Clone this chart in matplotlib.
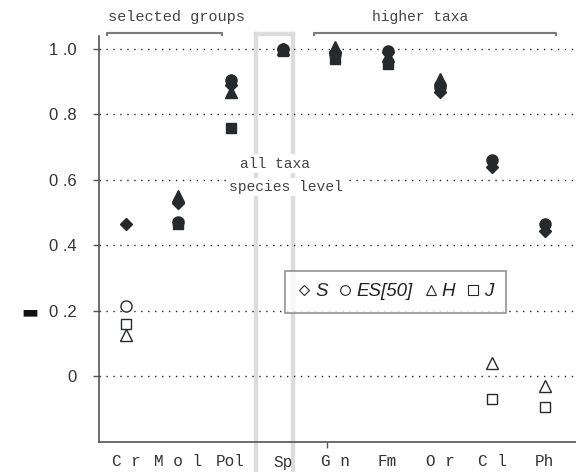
import matplotlib
matplotlib.use("Agg")
import matplotlib.pyplot as plt
from matplotlib.lines import Line2D

# Categories along x (first three: selected groups, Sp: all taxa, rest: higher taxa)
categories = ["C r", "M o l", "Pol", "Sp", "G n", "Fm", "O r", "C l", "Ph"]

# Index values per category
s_vals = [0.465, 0.53, 0.89, 1.0, 0.99, 0.99, 0.87, 0.64, 0.445]
es_vals = [0.215, 0.47, 0.905, 1.0, 0.985, 0.995, 0.885, 0.66, 0.465]
h_vals = [0.125, 0.55, 0.87, 1.0, 1.005, 0.98, 0.91, 0.04, -0.03]
j_vals = [0.16, 0.465, 0.76, 0.995, 0.97, 0.955, 0.885, -0.07, -0.095]

ytick_vals = [0, 0.2, 0.4, 0.6, 0.8, 1.0]
ytick_labels = ["0", "0 .2", "0 .4", "0 .6", "0 .8", "1 .0"]

ink = "#262a2c"
mono = "Liberation Mono"

fig = plt.figure(figsize=(5.76, 4.72), dpi=100)
ax = fig.add_axes([99 / 576, 30 / 472, 477 / 576, 406 / 472])

x = list(range(1, len(categories) + 1))

series = [
    (s_vals, "D", 6.0),
    (es_vals, "o", 8.0),
    (h_vals, "^", 8.0),
    (j_vals, "s", 7.5),
]

# high values drawn solid, low values drawn open
for vals, mk, ms in series:
    for xi, v in zip(x, vals):
        filled = v > 0.3
        ax.plot(xi, v, marker=mk, ms=ms, ls="none",
                mfc=ink if filled else "white", mec=ink,
                mew=1.0, zorder=5)

ax.set_xlim(0.485, 9.6)
ax.set_ylim(-0.2015, 1.04)

# dotted reference lines
for yv in ytick_vals:
    ax.axhline(yv, color="#222", lw=1.0, ls=(0, (1, 4)), zorder=1)

# band around the all-taxa column
band_col = "#dcdcdc"
bx0, bx1, btop = 3.48, 4.2, 1.046
for bx in (bx0, bx1):
    ax.add_line(Line2D([bx, bx], [-0.5, btop], color=band_col, lw=3.2,
                       clip_on=False, zorder=0.5))
ax.add_line(Line2D([bx0, bx1], [btop, btop], color=band_col, lw=3.2,
                   clip_on=False, zorder=0.5))

# group brackets
br_col = "#7a7a7a"
for x0, x1 in [(0.637, 2.83), (4.6, 9.22)]:
    ax.add_line(Line2D([x0, x0, x1, x1], [1.044, 1.05, 1.05, 1.044],
                       color=br_col, lw=1.5, clip_on=False))

ax.text(1.97, 1.098, "selected groups", family=mono, fontsize=11,
        ha="center", va="center", color="#444")
ax.text(6.63, 1.098, "higher taxa", family=mono, fontsize=10.5,
        ha="center", va="center", color="#444")

box = dict(facecolor="white", edgecolor="none", pad=1.5)
ax.text(3.84, 0.65, "all taxa", family=mono, fontsize=10.5,
        ha="center", va="center", color="#444", bbox=box, zorder=3)
ax.text(4.05, 0.577, "species level", family=mono, fontsize=10.5,
        ha="center", va="center", color="#444", bbox=box, zorder=3)

# axes styling
for side in ("top", "right"):
    ax.spines[side].set_visible(False)
for side in ("left", "bottom"):
    ax.spines[side].set_color("#555")
    ax.spines[side].set_linewidth(1.2)

ax.set_yticks(ytick_vals)
ax.set_yticklabels(ytick_labels, family="Liberation Sans", fontsize=12,
                   color="#333")
ax.tick_params(axis="y", length=4, width=1, color="#555", pad=12)

ax.set_xticks(x)
ax.set_xticklabels(categories, family=mono, fontsize=11.5, color="#333")
ax.tick_params(axis="x", length=0, pad=9)
ax.set_xticks([4.85], minor=True)
ax.tick_params(axis="x", which="minor", length=4, width=1, color="#555")

fig.text(30 / 576, 1 - 312 / 472, "\u25ac", fontsize=13, fontweight="bold",
         ha="center", va="center", color="#111")

# legend
handles = [
    Line2D([], [], marker="D", ms=5, ls="none", mfc="white", mec=ink, mew=0.8),
    Line2D([], [], marker="o", ms=7, ls="none", mfc="white", mec=ink, mew=0.8),
    Line2D([], [], marker="^", ms=7, ls="none", mfc="white", mec=ink, mew=0.8),
    Line2D([], [], marker="s", ms=7, ls="none", mfc="white", mec=ink, mew=0.8),
]
leg = ax.legend(handles, ["S", "ES[50]", "H", "J"], ncol=4,
                loc="upper left", bbox_to_anchor=(0.39, 0.421),
                borderaxespad=0, frameon=True, fancybox=False,
                handlelength=0.7, handletextpad=0.25, columnspacing=0.6,
                borderpad=0.65,
                prop=dict(family="Liberation Sans", style="italic",
                          size=13.5))
leg.get_frame().set_edgecolor("#777")
leg.get_frame().set_linewidth(1.2)
leg.set_zorder(6)
for t in leg.get_texts():
    t.set_color("#222")

fig.savefig("out.png", dpi=100)
